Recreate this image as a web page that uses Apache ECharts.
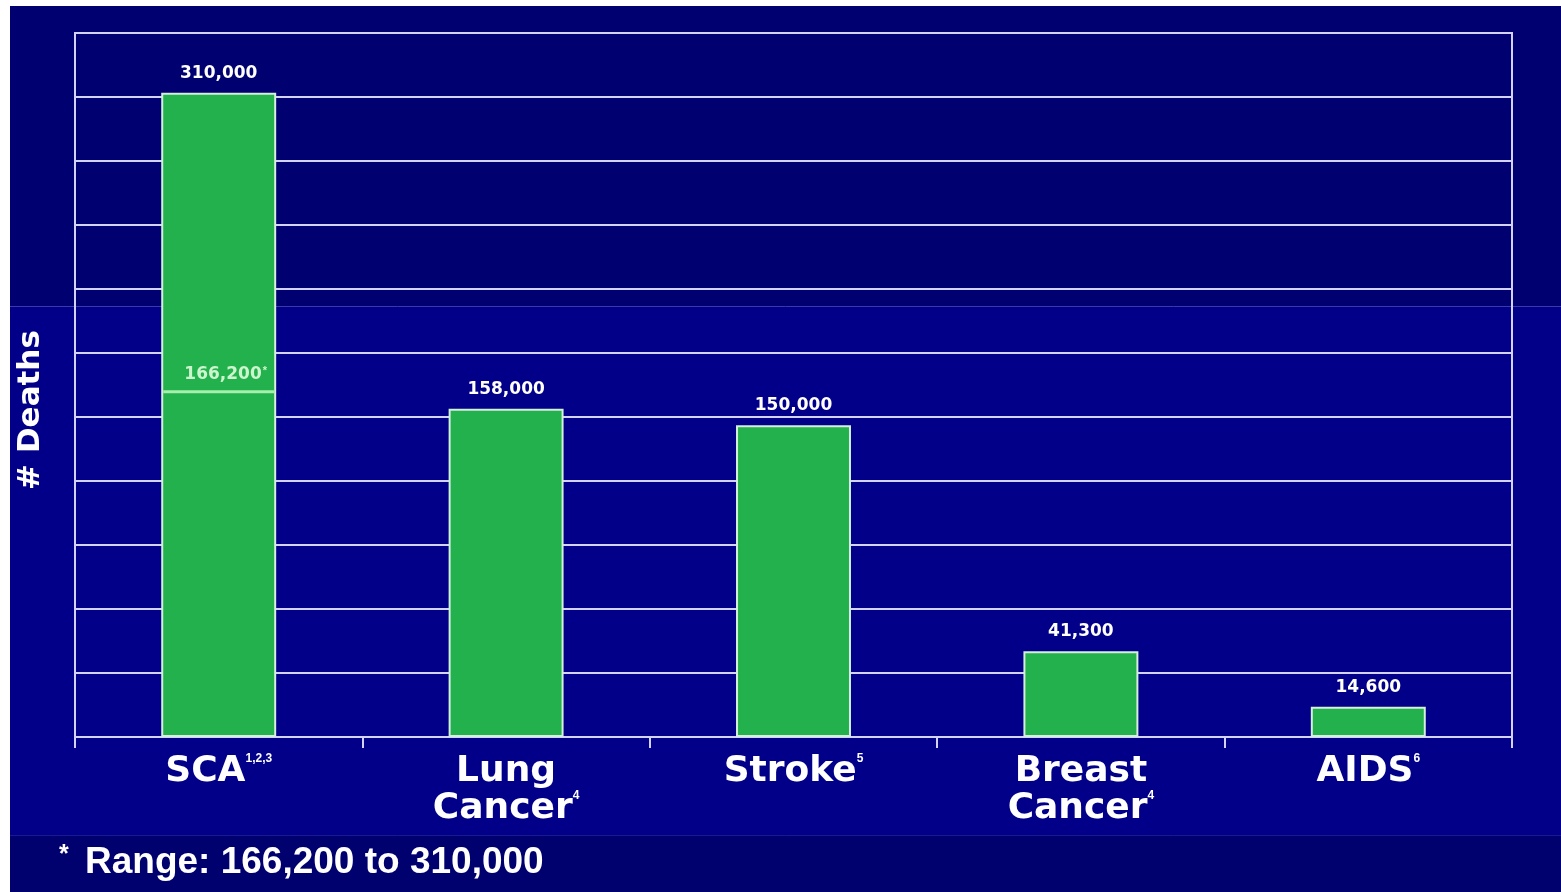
<!DOCTYPE html>
<html>
<head>
<meta charset="utf-8">
<title># Deaths</title>
<script src="https://cdn.jsdelivr.net/npm/echarts@6/dist/echarts.min.js"></script>
<style>
  html, body { margin: 0; padding: 0; background: #000078; }
  #chart { width: 1561px; height: 892px; }
</style>
</head>
<body>
<div id="chart"></div>
<script>
// Annual deaths by cause
const categories = ['SCA', 'Lung\nCancer', 'Stroke', 'Breast\nCancer', 'AIDS'];
const refs = ['1,2,3', '4', '5', '4', '6'];
const deaths = [310000, 158000, 150000, 41300, 14600];
// Lower end of the SCA estimate range
const scaRangeLow = 166200;
const footnote = 'Range: 166,200 to 310,000';
const yTitle = '# Deaths';

const WIDE = '"DejaVu Sans", Verdana, sans-serif';
const ARIAL = '"Liberation Sans", Arial, Helvetica, sans-serif';
const GRID_COLOR = '#d2d2fa';
const fmt = v => v.toLocaleString('en-US');

const chart = echarts.init(document.getElementById('chart'), null, { renderer: 'canvas' });

chart.setOption({
  backgroundColor: '#000078',
  animation: false,
  graphic: [
    // framed slide background
    { type: 'rect', z: -10, shape: { x: 0, y: 0, width: 1561, height: 892 }, style: { fill: '#ffffff' } },
    { type: 'rect', z: -9, shape: { x: 10, y: 6, width: 1551, height: 300 }, style: { fill: '#000070' } },
    { type: 'rect', z: -9, shape: { x: 10, y: 306, width: 1551, height: 530 }, style: { fill: '#020088' } },
    { type: 'rect', z: -9, shape: { x: 10, y: 836, width: 1551, height: 56 }, style: { fill: '#00006e' } },
    { type: 'line', z: -8, shape: { x1: 10, y1: 306.5, x2: 1561, y2: 306.5 }, style: { stroke: '#3a3aa8', lineWidth: 1 } },
    { type: 'line', z: -8, shape: { x1: 10, y1: 835.5, x2: 1561, y2: 835.5 }, style: { stroke: '#1a1a90', lineWidth: 1 } },
    // axis title
    {
      type: 'text', x: 31, y: 410, rotation: Math.PI / 2,
      style: { text: yTitle, fill: '#ffffff', font: 'bold 31px ' + WIDE, align: 'center', verticalAlign: 'middle' }
    },
    // footnote
    {
      type: 'text', left: 59, top: 843,
      style: {
        text: '{a|*}{b|' + footnote + '}',
        rich: {
          a: { fill: '#ffffff', font: 'bold 25px ' + ARIAL, verticalAlign: 'top', lineHeight: 40, width: 26 },
          b: { fill: '#ffffff', font: 'bold 37px ' + ARIAL, lineHeight: 40 }
        }
      }
    }
  ],
  grid: {
    left: 75, right: 49, top: 33, bottom: 155,
    show: true, borderColor: GRID_COLOR, borderWidth: 2, backgroundColor: 'transparent'
  },
  xAxis: {
    type: 'category',
    data: categories,
    axisLine: { show: true, lineStyle: { color: GRID_COLOR, width: 2 } },
    axisTick: { show: true, length: 11, lineStyle: { color: GRID_COLOR, width: 2 } },
    axisLabel: {
      interval: 0,
      margin: 16,
      color: '#ffffff',
      fontFamily: WIDE,
      fontWeight: 'bold',
      fontSize: 36,
      lineHeight: 37,
      formatter: (v, i) => v + '{s|' + refs[i] + '}',
      rich: {
        s: { fontSize: 12, fontWeight: 'bold', fontFamily: ARIAL, color: '#ffffff', verticalAlign: 'top', lineHeight: 37, padding: [0, 0, 18, 0] }
      }
    }
  },
  yAxis: {
    type: 'value',
    min: 0,
    max: 338800,
    interval: 30800,
    axisLine: { show: false },
    axisTick: { show: false },
    axisLabel: { show: false },
    splitLine: { show: true, lineStyle: { color: GRID_COLOR, width: 2 } }
  },
  series: [
    {
      type: 'bar',
      data: deaths,
      barWidth: '40%',
      itemStyle: { color: '#22b14c', borderColor: '#d6eedc', borderWidth: 2 },
      label: {
        show: true,
        position: 'top',
        distance: 11,
        color: '#ffffff',
        fontFamily: WIDE,
        fontWeight: 'bold',
        fontSize: 17,
        formatter: p => fmt(p.value)
      },
      z: 3
    },
    {
      // lower bound marker drawn across the SCA bar
      type: 'custom',
      data: [[0, scaRangeLow]],
      encode: { x: 0, y: 1 },
      z: 5,
      renderItem: (params, api) => {
        const p = api.coord([api.value(0), api.value(1)]);
        const w = api.size([1, 0])[0] * 0.4;
        return {
          type: 'group',
          children: [
            {
              type: 'line',
              shape: { x1: p[0] - w / 2 + 2, y1: p[1], x2: p[0] + w / 2 - 2, y2: p[1] },
              style: { stroke: '#a6f0ae', lineWidth: 3 }
            },
            {
              type: 'text',
              x: p[0] + 7, y: p[1] - 9,
              style: {
                text: fmt(api.value(1)) + '{t|*}',
                fill: '#cdf5cd',
                font: 'bold 17px ' + WIDE,
                align: 'center',
                verticalAlign: 'bottom',
                rich: { t: { fill: '#cdf5cd', font: 'bold 11px ' + ARIAL, verticalAlign: 'top', padding: [0, 0, 6, 1] } }
              }
            }
          ]
        };
      }
    }
  ]
});
</script>
</body>
</html>
